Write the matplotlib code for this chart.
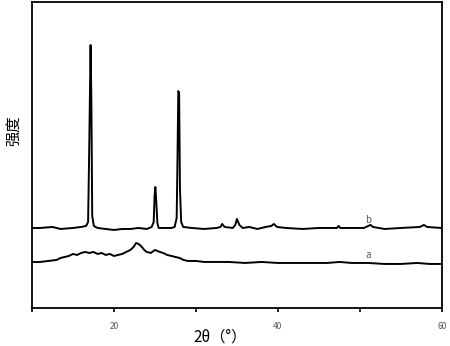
import matplotlib
matplotlib.use("Agg")
import matplotlib.pyplot as plt
from matplotlib.ticker import FixedLocator

plt.rcParams['font.family'] = ['Noto Sans CJK SC', 'DejaVu Sans']

# ----------------------------
# DATA (arbitrary intensity units)
# ----------------------------
theta_b = [10.0, 11.0, 12.5, 13.5, 15.0, 16.0, 16.6, 16.85, 17.0, 17.15, 17.25, 17.35, 17.55,
           18.0, 19.0, 20.0, 21.0, 22.0, 23.0, 24.0, 24.6, 24.85, 24.95, 25.05, 25.15, 25.3, 25.45,
           26.0, 27.0, 27.4, 27.65, 27.75, 27.85, 27.95, 28.05, 28.2, 28.45,
           29.5, 31.0, 32.5, 33.0, 33.2, 33.5, 34.5, 34.8, 35.0, 35.3, 35.7,
           36.5, 37.5, 38.5, 39.2, 39.5, 39.9, 41.0, 43.0, 45.0, 47.2, 47.4, 47.6,
           49.0, 50.5, 51.0, 51.3, 51.6, 53.0, 55.0, 57.3, 57.8, 58.2, 60.0]
int_b = [80, 80, 81, 79, 80, 81, 82, 86, 168, 263, 206, 92, 82,
         80, 79, 78, 79, 79, 80, 79, 81, 86, 111, 121, 108, 85, 80,
         80, 80, 81, 90, 148, 217, 215, 120, 86, 81,
         80, 79, 80, 81, 84, 81, 80, 83, 89, 83, 80,
         81, 79, 81, 82, 84, 81, 80, 79, 80, 80, 82, 80,
         80, 80, 82, 83, 81, 79, 80, 81, 83, 81, 80]

theta_a = [10.0, 11.0, 12.0, 13.0, 13.5, 14.0, 14.5, 15.0, 15.5, 16.0, 16.5, 17.0, 17.5,
           18.0, 18.5, 19.0, 19.5, 20.0, 20.5, 21.0, 21.5, 22.0, 22.4, 22.7, 23.0, 23.3,
           23.7, 24.0, 24.5, 25.0, 25.3, 25.6, 26.0, 26.5, 27.0, 27.5, 28.0, 28.5, 29.0,
           30.0, 31.0, 32.0, 33.0, 34.0, 36.0, 38.0, 40.0, 42.0, 44.0, 46.0, 47.5, 49.0,
           51.0, 53.0, 55.0, 57.0, 58.5, 60.0]
int_a = [46, 46, 47, 48, 50, 51, 52, 54, 53, 55, 56, 55, 56,
         54, 55, 53, 54, 52, 53, 54, 56, 58, 61, 65, 64, 62,
         58, 56, 55, 58, 57, 56, 55, 53, 52, 51, 50, 48, 47,
         47, 46, 46, 46, 46, 45, 46, 45, 45, 45, 45, 46, 45,
         45, 44, 44, 45, 44, 44]

xticks = [20, 40, 60]
xminor = [10, 30, 50]

# ----------------------------
# PLOT
# ----------------------------
fig = plt.figure(figsize=(4.5, 3.46), dpi=100)
ax = fig.add_axes([0.071, 0.110, 0.911, 0.884])

ax.plot(theta_b, int_b, color="black", lw=1.4)
ax.plot(theta_a, int_a, color="black", lw=1.4)

ax.text(51.0, 88, "b", fontsize=7, color="#555555", ha="center", va="center")
ax.text(51.0, 53, "a", fontsize=7, color="#555555", ha="center", va="center")

ax.set_xlim(10, 60)
ax.set_ylim(0, 306)
ax.set_yticks([])
ax.xaxis.set_major_locator(FixedLocator(xticks))
ax.xaxis.set_minor_locator(FixedLocator(xminor))
ax.tick_params(axis="x", which="both", direction="out", length=3, width=1.2,
               labelsize=6, labelcolor="#555555", pad=7)

for sp in ax.spines.values():
    sp.set_linewidth(1.3)

ax.set_xlabel("2θ（°）", fontsize=11, va="center")
ax.xaxis.set_label_coords(0.46, -0.095)
ax.set_ylabel("强度", fontsize=11, va="center")
ax.yaxis.set_label_coords(-0.045, 0.58)

fig.savefig("out.png", dpi=100)
